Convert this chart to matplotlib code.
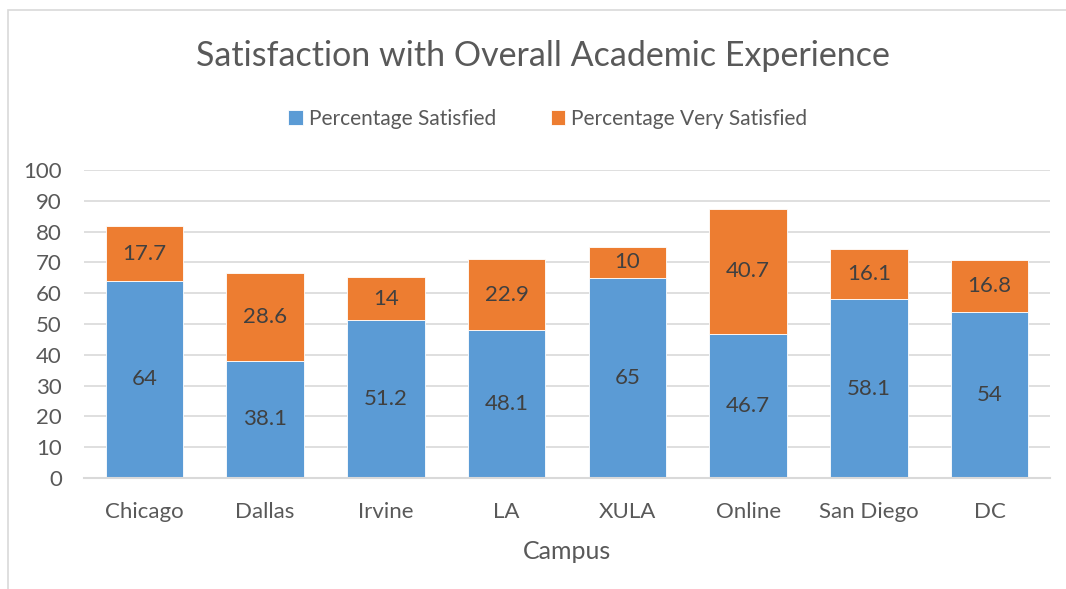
import matplotlib
matplotlib.use("Agg")
import matplotlib.pyplot as plt
from matplotlib.patches import Rectangle

campuses = ["Chicago", "Dallas", "Irvine", "LA", "XULA", "Online", "San Diego", "DC"]
satisfied = [64, 38.1, 51.2, 48.1, 65, 46.7, 58.1, 54]
very_satisfied = [17.7, 28.6, 14, 22.9, 10, 40.7, 16.1, 16.8]
yticks = [0, 10, 20, 30, 40, 50, 60, 70, 80, 90, 100]

plt.rcParams['font.family'] = ['Lato', 'DejaVu Sans']
W, H = 1066, 589
fig = plt.figure(figsize=(W/100, H/100), dpi=100)
ax = fig.add_axes([84/W, 1-478/H, (1050-84)/W, (478-170)/H])

blue = "#5B9BD5"
orange = "#ED7D31"
txt = "#595959"
lbl = "#404040"

x = range(len(campuses))
b1 = ax.bar(x, satisfied, width=0.64, color=blue, edgecolor="white", linewidth=0.6, zorder=3, label="Percentage Satisfied")
b2 = ax.bar(x, very_satisfied, bottom=satisfied, width=0.64, color=orange, edgecolor="white", linewidth=0.6, zorder=3, label="Percentage Very Satisfied")

for i in x:
    ax.text(i, satisfied[i]/2, f"{satisfied[i]:g}", ha="center", va="center", fontsize=16, color=lbl, zorder=4)
    ax.text(i, satisfied[i] + very_satisfied[i]/2, f"{very_satisfied[i]:g}", ha="center", va="center", fontsize=16, color=lbl, zorder=4)

ax.set_xlim(-0.5, len(campuses)-0.5)
ax.set_ylim(0, 100)
ax.set_yticks(yticks)
ax.set_yticklabels([str(v) for v in yticks], fontsize=16, color=txt)
ax.set_xticks(list(x))
ax.set_xticklabels(campuses, fontsize=16, color=txt)
ax.tick_params(axis='both', length=0)
ax.tick_params(axis='x', pad=17)
ax.tick_params(axis='y', pad=16)
ax.grid(axis='y', color="#D9D9D9", linewidth=1.2, zorder=0)
for s in ["top", "right", "left"]:
    ax.spines[s].set_visible(False)
ax.spines["bottom"].set_color("#D9D9D9")
ax.spines["bottom"].set_linewidth(1.5)
ax.spines["bottom"].set_zorder(4)

ax.set_xlabel("Campus", fontsize=18, color=txt, labelpad=13)

fig.text(543/W, 1-56/H, "Satisfaction with Overall Academic Experience", ha="center", va="center", fontsize=24.5, color=txt)

leg = fig.legend(handles=[b1, b2], loc="center", bbox_to_anchor=(548/W, 1-119/H), ncol=2, frameon=False,
                 fontsize=15, handlelength=0.7, handleheight=0.7, handletextpad=0.3, columnspacing=2.6)
for t in leg.get_texts():
    t.set_color(txt)

# chart border
fig.patches.append(Rectangle((8/W, -0.01), 1.1, 1-10/H+0.01, transform=fig.transFigure, fill=False,
                             edgecolor="#D9D9D9", linewidth=1.2))

fig.savefig("out.png", dpi=100)
